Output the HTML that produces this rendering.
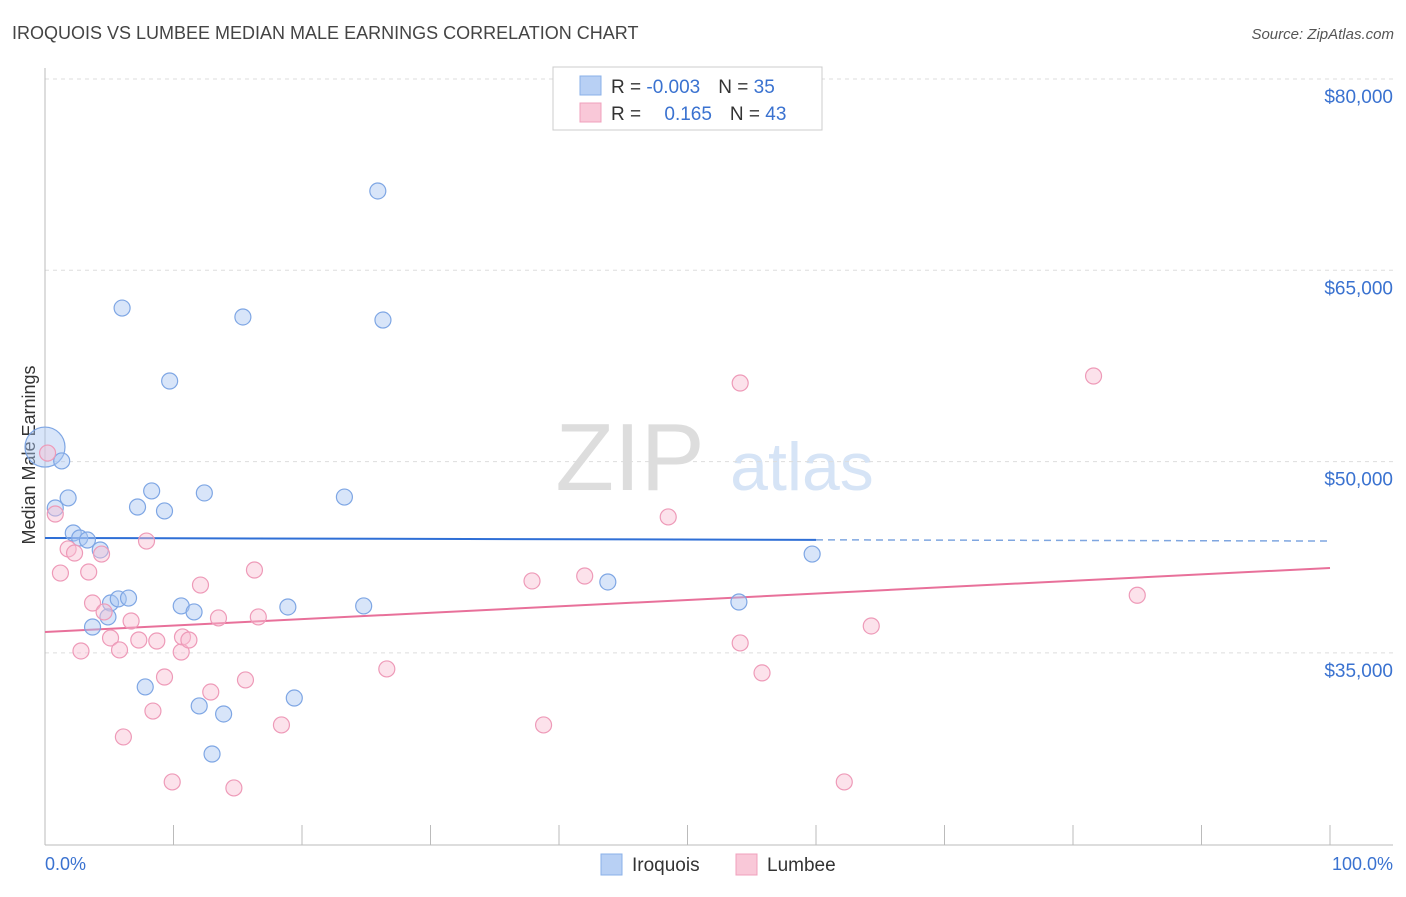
<!DOCTYPE html>
<html><head><meta charset="utf-8"><style>
body{margin:0;background:#fff;font-family:"Liberation Sans",sans-serif;}
svg text{font-family:"Liberation Sans",sans-serif;}
</style></head><body>
<svg id="chart" width="1406" height="892" xmlns="http://www.w3.org/2000/svg">
<text x="12" y="39" font-size="18" fill="#444">IROQUOIS VS LUMBEE MEDIAN MALE EARNINGS CORRELATION CHART</text>
<text x="1394" y="39" font-size="15" fill="#555" font-style="italic" text-anchor="end">Source: ZipAtlas.com</text>
<text x="630" y="490" font-size="96" fill="#ddd" font-family="Liberation Serif" text-anchor="middle">ZIP</text>
<text x="802" y="490" font-size="68" fill="#d6e4f6" text-anchor="middle">atlas</text>
<g id="grid"></g>
<line x1="45" y1="68" x2="45" y2="845" stroke="#bbb"/>
<line x1="45" y1="845" x2="1393" y2="845" stroke="#bbb"/>
<g id="ticks"></g>
<text x="35" y="455" font-size="18" fill="#333" text-anchor="middle" transform="rotate(-90 35 455)">Median Male Earnings</text>
<text x="45" y="870" font-size="18" fill="#3a72d0">0.0%</text>
<text x="1393" y="870" font-size="18" fill="#3a72d0" text-anchor="end">100.0%</text>
<g id="trends"></g>
<g id="points"></g>
<g>
<rect x="553" y="67" width="269" height="63" fill="#fff" stroke="#ccc"/>
<rect x="580" y="76" width="21" height="19" fill="#b8d0f4" stroke="#8ab0e8"/>
<rect x="580" y="103" width="21" height="19" fill="#f9c8d8" stroke="#f0a0bc"/>
<text x="611" y="93" font-size="19" fill="#333">R = <tspan fill="#3a72d0">-0.003</tspan><tspan dx="18">N = </tspan><tspan fill="#3a72d0">35</tspan></text>
<text x="611" y="120" font-size="19" fill="#333">R = <tspan fill="#3a72d0" dx="18">0.165</tspan><tspan dx="18">N = </tspan><tspan fill="#3a72d0">43</tspan></text>
</g>
<g><rect x="601" y="854" width="21" height="21" fill="#b8d0f4" stroke="#8ab0e8"/><text x="632" y="871" font-size="19" fill="#333">Iroquois</text></g>
<g><rect x="736" y="854" width="21" height="21" fill="#f9c8d8" stroke="#f0a0bc"/><text x="767" y="871" font-size="19" fill="#333">Lumbee</text></g>
</svg>
<script>
const yTicks=[35000,50000,65000,80000];
const yTickLabels=["$35,000","$50,000","$65,000","$80,000"];
const xTicks=[10,20,30,40,50,60,70,80,90,100];
const iroX=[0,1.3,1.8,0.8,2.2,2.7,3.3,4.3,7.2,8.3,9.3,12.4,6.0,9.7,15.4,25.9,26.3,23.3,5.1,5.7,6.5,4.9,3.7,10.6,11.6,18.9,24.8,7.8,12.0,13.9,19.4,13.0,43.8,54.0,59.7];
const iroY=[51.14,50.05,47.15,46.36,44.40,44.01,43.85,43.07,46.44,47.70,46.13,47.54,62.04,56.32,61.34,71.22,61.10,47.22,38.91,39.23,39.30,37.82,37.03,38.68,38.21,38.60,38.68,32.33,30.84,30.21,31.46,27.07,40.56,38.99,42.75];
const lumX=[0.2,0.8,1.2,1.8,2.3,3.4,4.4,3.7,4.6,2.8,5.1,5.8,6.7,7.3,7.9,8.7,8.4,6.1,9.3,9.9,10.6,10.7,11.2,12.1,12.9,13.5,14.7,15.6,16.3,16.6,18.4,26.6,37.9,38.8,42.0,48.5,54.1,54.1,55.8,62.2,64.3,81.6,85.0];
const lumY=[50.67,45.89,41.26,43.15,42.83,41.34,42.75,38.91,38.21,35.15,36.17,35.23,37.50,36.01,43.77,35.93,30.44,28.41,33.11,24.88,35.07,36.25,36.01,40.32,31.93,37.74,24.41,32.88,41.50,37.82,29.35,33.74,40.64,29.35,41.03,45.66,56.16,35.78,33.43,24.88,37.11,56.71,39.52];
const iroTrend=[44.01,43.77];
const lumTrend=[36.64,41.66];
const NS="http://www.w3.org/2000/svg";
const X=v=>45+v*12.85;
const Y=v=>79+(80-v/1000*(v>1000?1:1000))*12.753;
const Yk=v=>79+(80-v)*12.753;
function mk(t,a,p){const e=document.createElementNS(NS,t);for(const k in a)e.setAttribute(k,a[k]);document.getElementById(p).appendChild(e);return e;}
yTicks.forEach((v,i)=>{
 const l=mk('line',{x1:45,x2:1393,y1:Yk(v/1000),y2:Yk(v/1000),stroke:'#ddd','stroke-dasharray':'4 4'},'grid');
 
 
 const t=mk('text',{x:1393,y:Yk(v/1000)+24,'font-size':19,fill:'#3a72d0','text-anchor':'end'},'grid');
 t.textContent=yTickLabels[i];
 
 
});
xTicks.forEach(v=>{
 const l=mk('line',{x1:X(v),x2:X(v),y1:825,y2:845,stroke:'#bbb'},'ticks');
 
 
});
let l=mk('line',{x1:X(0),x2:X(60),y1:Yk(iroTrend[0]),y2:Yk(iroTrend[0]+(iroTrend[1]-iroTrend[0])*0.6),stroke:'#2f6fd6','stroke-width':2},'trends');


l=mk('line',{x1:X(60),x2:X(100),y1:Yk(iroTrend[0]+(iroTrend[1]-iroTrend[0])*0.6),y2:Yk(iroTrend[1]),stroke:'#7fa6e0','stroke-width':1.5,'stroke-dasharray':'7 5'},'trends');


l=mk('line',{x1:X(0),x2:X(100),y1:Yk(lumTrend[0]),y2:Yk(lumTrend[1]),stroke:'#e8709a','stroke-width':2},'trends');


iroX.forEach((x,i)=>{
 const c=mk('circle',{cx:X(x),cy:Yk(iroY[i]),r:i===0?20:8,fill:'rgba(168,198,242,0.45)',stroke:'#7ea6e4','stroke-width':1.2},'points');
 
 
});
lumX.forEach((x,i)=>{
 const c=mk('circle',{cx:X(x),cy:Yk(lumY[i]),r:8,fill:'rgba(248,190,210,0.45)',stroke:'#ee9ab8','stroke-width':1.2},'points');
 
 
});
</script>
</body></html>
